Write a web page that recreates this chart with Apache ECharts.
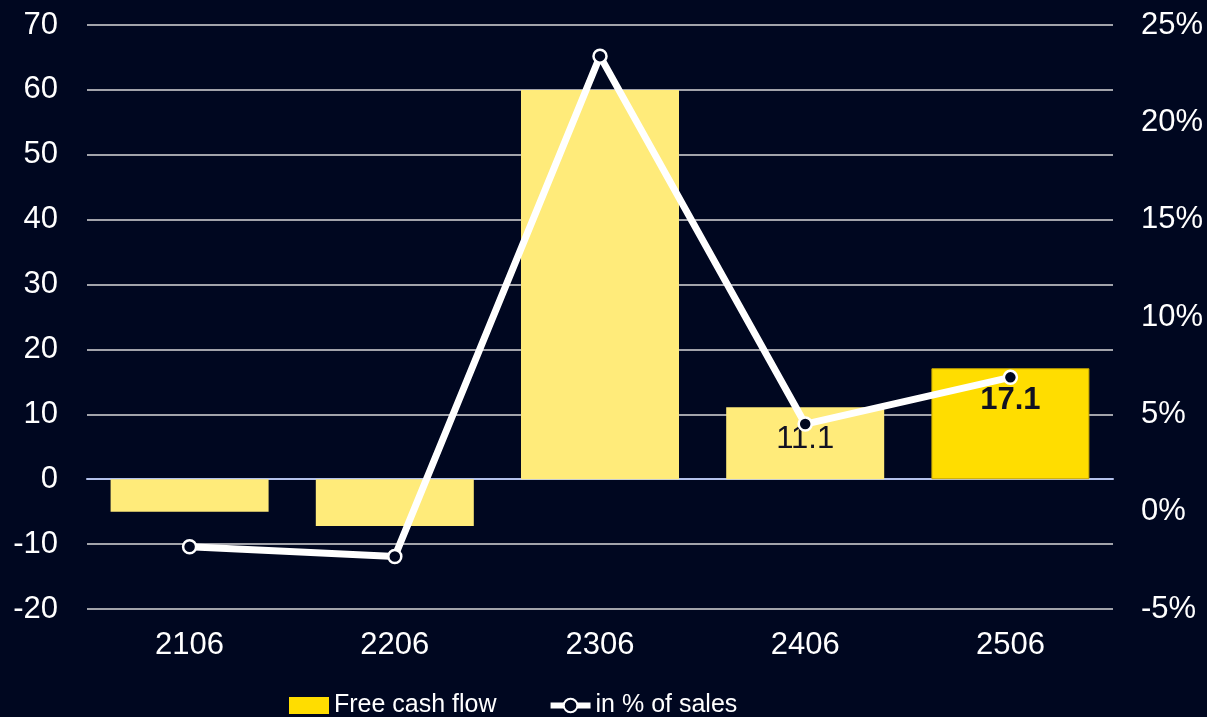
<!DOCTYPE html>
<html>
<head>
<meta charset="utf-8">
<script src="https://cdn.jsdelivr.net/npm/echarts@6/dist/echarts.min.js"></script>
<style>
html,body{margin:0;padding:0;background:#000720;}
#c{width:1207px;height:717px;}
</style>
</head>
<body>
<div id="c"></div>
<script>
const categories = ['2106', '2206', '2306', '2406', '2506'];
const freeCashFlow = [-5.0, -7.2, 60.0, 11.1, 17.1];
const pctOfSales = [-1.8, -2.3, 23.4, 4.5, 6.9];
const showBarLabel = [false, false, false, true, true];
const boldBarLabel = [false, false, false, false, true];
const highlightBar = [false, false, false, false, true];
const leftTicks = { min: -20, max: 70, interval: 10 };
const rightTicks = { min: -5, max: 25, interval: 5 };
const seriesNames = ['Free cash flow', 'in % of sales'];

const BG = '#000720';
const PALE = '#FFEB7A';
const BRIGHT = '#FFDD00';
const FONT = 'Liberation Sans, Arial, sans-serif';

const barData = freeCashFlow.map((v, i) => ({
  value: v,
  itemStyle: highlightBar[i]
    ? { color: BRIGHT, borderColor: '#C9A800', borderWidth: 1 }
    : { color: PALE },
  label: {
    show: showBarLabel[i],
    fontWeight: boldBarLabel[i] ? 'bold' : 'normal'
  }
}));

const chart = echarts.init(document.getElementById('c'), null, { renderer: 'canvas' });
chart.setOption({
  backgroundColor: BG,
  animation: false,
  textStyle: { fontFamily: FONT },
  grid: { left: 87, right: 94, top: 25, bottom: 108, containLabel: false },
  legend: {
    left: 289,
    top: 693,
    padding: 0,
    itemWidth: 40,
    itemHeight: 17,
    itemGap: 51,
    textStyle: { color: '#FFFFFF', fontSize: 25, fontFamily: FONT, lineHeight: 25 },
    data: [
      { name: seriesNames[0], icon: 'rect', itemStyle: { color: BRIGHT } },
      { name: seriesNames[1], lineStyle: { color: '#FFFFFF', width: 6 }, itemStyle: { color: BG, borderColor: '#FFFFFF', borderWidth: 2 } }
    ]
  },
  xAxis: {
    type: 'category',
    data: categories,
    axisTick: { show: false },
    axisLine: { show: true, onZero: true, lineStyle: { color: '#B4C2EC', width: 2 } },
    axisLabel: { color: '#FFFFFF', fontSize: 31, margin: 21, fontFamily: FONT }
  },
  yAxis: [
    {
      type: 'value',
      min: leftTicks.min, max: leftTicks.max, interval: leftTicks.interval,
      axisLine: { show: false },
      axisTick: { show: false },
      splitLine: { show: true, lineStyle: { color: '#D9D9D9', width: 1.5 } },
      axisLabel: { color: '#FFFFFF', fontSize: 31, margin: 29, fontFamily: FONT }
    },
    {
      type: 'value',
      min: rightTicks.min, max: rightTicks.max, interval: rightTicks.interval,
      axisLine: { show: false },
      axisTick: { show: false },
      splitLine: { show: false },
      axisLabel: { color: '#FFFFFF', fontSize: 31, margin: 28, fontFamily: FONT, formatter: '{value}%' }
    }
  ],
  series: [
    {
      name: seriesNames[0],
      type: 'bar',
      yAxisIndex: 0,
      barWidth: '77%',
      data: barData,
      label: {
        position: 'insideTop',
        distance: 17,
        color: '#111122',
        fontSize: 31,
        fontFamily: FONT,
        formatter: p => p.value.toFixed(1)
      },
      z: 2
    },
    {
      name: seriesNames[1],
      type: 'line',
      yAxisIndex: 1,
      data: pctOfSales,
      symbol: 'circle',
      symbolSize: 13,
      lineStyle: { color: '#FFFFFF', width: 7 },
      itemStyle: { color: BG, borderColor: '#FFFFFF', borderWidth: 2.5 },
      z: 3
    }
  ]
});
</script>
</body>
</html>
